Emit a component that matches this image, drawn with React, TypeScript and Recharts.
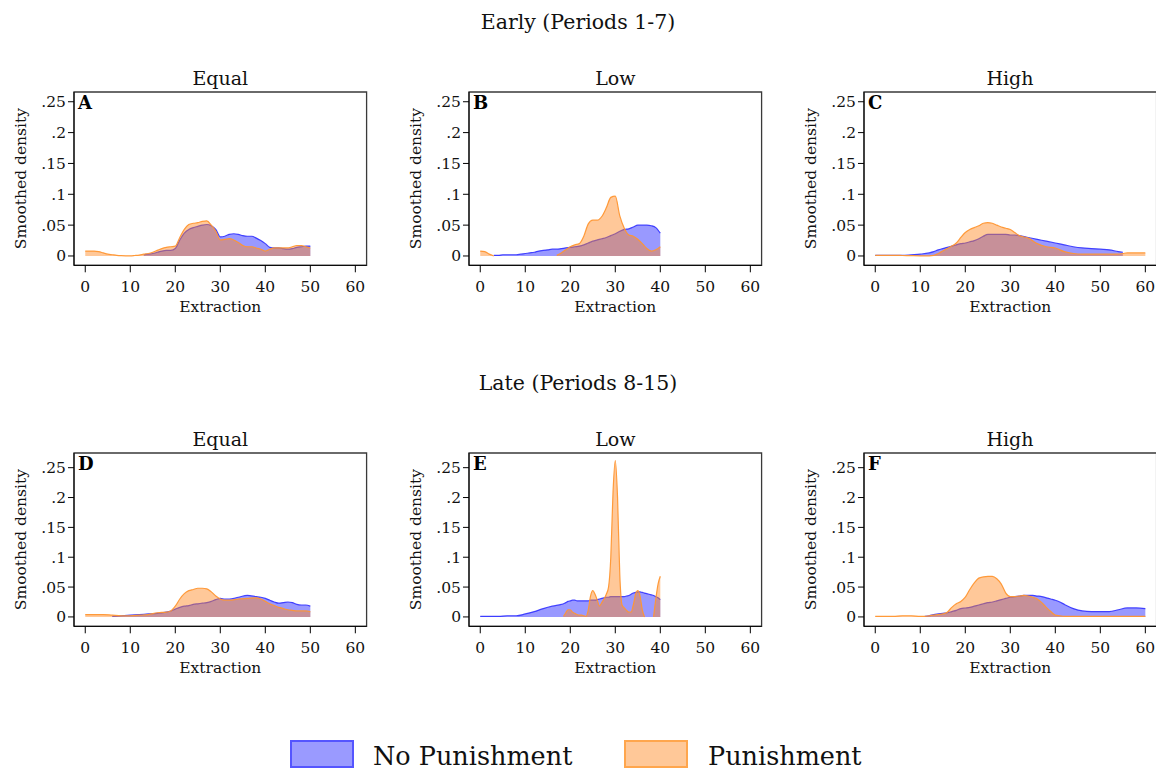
import React from "react";
import {
  AreaChart,
  Area,
  XAxis,
  YAxis,
  ReferenceArea,
} from "recharts";

// extraction grid and smoothed densities
// null = series not drawn at that extraction level

// A: Early, Equal
const xA = [0, 1, 2, 3, 4, 5, 6, 7, 8, 9, 10, 11, 12, 13, 14, 15, 16, 17, 18, 19, 20, 21, 22, 23, 24, 25, 26, 27, 28, 29, 30, 31, 32, 33, 34, 35, 36, 37, 38, 39, 40, 41, 42, 43, 44, 45, 46, 47, 48, 49, 50];
const npA = [null, null, null, null, null, null, null, null, null, null, null, null, null, 0.002, 0.003, 0.004, 0.006, 0.008, 0.009, 0.009, 0.012, 0.026, 0.037, 0.043, 0.046, 0.048, 0.05, 0.051, 0.049, 0.043, 0.031, 0.032, 0.035, 0.036, 0.035, 0.033, 0.032, 0.032, 0.029, 0.025, 0.02, 0.014, 0.013, 0.013, 0.012, 0.011, 0.012, 0.014, 0.015, 0.016, 0.016];
const pA = [0.008, 0.008, 0.008, 0.007, 0.005, 0.003, 0.002, 0.001, 0.0005, 0.0003, 0.0003, 0.0008, 0.0015, 0.003, 0.004, 0.006, 0.009, 0.012, 0.014, 0.015, 0.016, 0.03, 0.043, 0.051, 0.053, 0.054, 0.056, 0.057, 0.05, 0.04, 0.026, 0.027, 0.028, 0.026, 0.022, 0.017, 0.015, 0.015, 0.013, 0.011, 0.008, 0.011, 0.013, 0.013, 0.013, 0.013, 0.015, 0.017, 0.017, 0.015, 0.013];

// B: Early, Low
const xB = [0, 1, 2, 3, 4, 5, 6, 7, 8, 9, 10, 11, 12, 13, 14, 15, 16, 17, 18, 19, 20, 21, 22, 23, 24, 25, 26, 27, 28, 29, 30, 31, 32, 33, 34, 35, 36, 37, 38, 39, 40];
const npB = [null, null, null, 0.001, 0.001, 0.002, 0.002, 0.002, 0.002, 0.003, 0.004, 0.005, 0.006, 0.008, 0.009, 0.01, 0.011, 0.011, 0.012, 0.013, 0.014, 0.015, 0.016, 0.018, 0.021, 0.024, 0.026, 0.028, 0.03, 0.033, 0.036, 0.04, 0.043, 0.044, 0.047, 0.05, 0.05, 0.05, 0.049, 0.046, 0.037];
const pB = [0.008, 0.007, 0.003, 0, null, null, null, null, null, null, null, null, null, null, null, null, null, 0.001, 0.005, 0.01, 0.015, 0.018, 0.02, 0.032, 0.052, 0.058, 0.058, 0.064, 0.078, 0.095, 0.097, 0.065, 0.045, 0.034, 0.032, 0.027, 0.02, 0.012, 0.008, 0.01, 0.015];

// C: Early, High
const xC = [0, 2, 4, 6, 8, 10, 12, 13, 14, 15, 16, 17, 18, 19, 20, 21, 22, 23, 24, 25, 26, 27, 28, 29, 30, 31, 32, 34, 36, 38, 40, 42, 44, 46, 48, 50, 52, 54, 55, 56, 58, 60];
const npC = [0.001, 0.001, 0.001, 0.001, 0.002, 0.003, 0.005, 0.007, 0.01, 0.012, 0.014, 0.016, 0.018, 0.02, 0.021, 0.023, 0.025, 0.028, 0.032, 0.035, 0.035, 0.035, 0.035, 0.035, 0.034, 0.034, 0.033, 0.03, 0.027, 0.024, 0.021, 0.018, 0.015, 0.013, 0.012, 0.011, 0.01, 0.007, 0.006, null, null, null];
const pC = [0.001, 0.001, 0.001, 0.0008, 0.0005, 0.0003, 0.0003, 0.001, 0.004, 0.008, 0.012, 0.016, 0.021, 0.03, 0.038, 0.043, 0.046, 0.049, 0.053, 0.054, 0.053, 0.05, 0.047, 0.045, 0.043, 0.038, 0.033, 0.029, 0.02, 0.015, 0.013, 0.007, 0.004, 0.003, 0.003, 0.003, 0.003, 0.003, 0.004, 0.005, 0.005, 0.005];

// D: Late, Equal
const xD = [0, 2, 4, 6, 8, 10, 12, 14, 16, 18, 19, 20, 21, 22, 23, 24, 25, 26, 27, 28, 29, 30, 31, 32, 34, 36, 38, 39, 40, 41, 42, 43, 44, 45, 46, 47, 48, 49, 50];
const npD = [null, null, null, 0.001, 0.002, 0.003, 0.004, 0.005, 0.006, 0.008, 0.01, 0.013, 0.016, 0.018, 0.019, 0.021, 0.022, 0.023, 0.024, 0.026, 0.029, 0.031, 0.03, 0.03, 0.033, 0.036, 0.034, 0.033, 0.031, 0.028, 0.025, 0.023, 0.024, 0.025, 0.024, 0.021, 0.02, 0.02, 0.018];
const pD = [0.004, 0.004, 0.004, 0.003, 0.002, 0.002, 0.003, 0.004, 0.007, 0.008, 0.01, 0.018, 0.03, 0.039, 0.044, 0.046, 0.048, 0.048, 0.047, 0.042, 0.035, 0.03, 0.028, 0.028, 0.03, 0.031, 0.032, 0.03, 0.026, 0.022, 0.019, 0.016, 0.014, 0.012, 0.011, 0.01, 0.01, 0.01, 0.009];

// E: Late, Low
const xE = [0, 2, 4, 6, 8, 10, 12, 14, 16, 18, 18.5, 19, 19.5, 20, 20.5, 21, 21.5, 22, 22.5, 23, 23.5, 24, 24.5, 25, 25.5, 26, 26.5, 27, 27.5, 28, 28.5, 29, 29.5, 30, 30.5, 31, 31.5, 32, 32.5, 33, 33.5, 34, 34.5, 35, 35.5, 36, 36.5, 37, 37.5, 38, 38.5, 39, 39.5, 40];
const npE = [0.001, 0.001, 0.001, 0.002, 0.002, 0.005, 0.009, 0.014, 0.018, 0.021, 0.022, 0.024, 0.026, 0.027, 0.028, 0.028, 0.027, 0.027, 0.027, 0.027, 0.027, 0.027, 0.028, 0.028, 0.028, 0.029, 0.03, 0.031, 0.032, 0.033, 0.033, 0.034, 0.034, 0.034, 0.034, 0.034, 0.034, 0.034, 0.035, 0.036, 0.038, 0.04, 0.041, 0.042, 0.042, 0.041, 0.04, 0.039, 0.038, 0.037, 0.036, 0.034, 0.032, 0.029];
const pE = [null, null, null, null, null, null, null, null, null, null, 0.001, 0.007, 0.012, 0.012, 0.008, 0.006, 0.004, 0.003, 0.003, 0.002, 0.001, 0.012, 0.035, 0.044, 0.038, 0.028, 0.018, 0.024, 0.03, 0.038, 0.05, 0.1, 0.21, 0.262, 0.2, 0.07, 0.02, 0.015, 0.011, 0.008, 0.008, 0.02, 0.038, 0.044, 0.035, 0.012, 0, null, null, null, 0, 0.03, 0.055, 0.068];

// F: Late, High
const xF = [0, 2, 4, 6, 8, 10, 11, 12, 13, 14, 15, 16, 17, 18, 19, 20, 21, 22, 23, 24, 25, 26, 27, 28, 29, 30, 31, 32, 33, 34, 35, 36, 37, 38, 39, 40, 41, 42, 44, 46, 48, 50, 52, 54, 56, 58, 60];
const npF = [null, null, null, null, null, null, 0.001, 0.002, 0.004, 0.005, 0.006, 0.007, 0.009, 0.011, 0.014, 0.015, 0.016, 0.018, 0.02, 0.022, 0.024, 0.025, 0.027, 0.029, 0.031, 0.033, 0.034, 0.035, 0.036, 0.036, 0.036, 0.035, 0.034, 0.032, 0.03, 0.028, 0.025, 0.021, 0.014, 0.01, 0.009, 0.009, 0.009, 0.012, 0.015, 0.015, 0.014];
const pF = [0.001, 0.0008, 0.0008, 0.002, 0.002, 0.001, 0.001, 0.002, 0.003, 0.004, 0.005, 0.008, 0.016, 0.022, 0.026, 0.033, 0.046, 0.057, 0.065, 0.067, 0.068, 0.068, 0.064, 0.055, 0.04, 0.034, 0.034, 0.035, 0.036, 0.035, 0.033, 0.03, 0.024, 0.016, 0.009, 0.003, 0.002, 0.001, 0.001, 0.001, 0.001, 0.001, 0.001, 0.001, 0.001, 0.001, 0.001];

const xTicks = [0, 10, 20, 30, 40, 50, 60];
const yTicks = [0, 0.05, 0.1, 0.15, 0.2, 0.25];
const colTitles = ["Equal", "Low", "High"];
const rowTitles = ["Early (Periods 1-7)", "Late (Periods 8-15)"];
const seriesNames = ["No Punishment", "Punishment"];

const FONT = "'DejaVu Serif', serif";
const BLUE_FILL = "rgba(0,0,255,0.4)";
const BLUE_LINE = "rgba(40,40,255,0.85)";
const ORANGE_FILL = "rgba(255,134,28,0.45)";
const ORANGE_LINE = "rgba(255,150,50,0.95)";

const toRows = (xs: number[], np: (number | null)[], p: (number | null)[]) =>
  xs.map((x, i) => ({ x, np: np[i], p: p[i] }));

const panels = [
  { letter: "A", data: toRows(xA, npA, pA) },
  { letter: "B", data: toRows(xB, npB, pB) },
  { letter: "C", data: toRows(xC, npC, pC) },
  { letter: "D", data: toRows(xD, npD, pD) },
  { letter: "E", data: toRows(xE, npE, pE) },
  { letter: "F", data: toRows(xF, npF, pF) },
];

const X_DOMAIN: [number, number] = [-2.5, 62.5];
const Y_DOMAINS: [number, number][] = [
  [-0.0151, 0.2658],
  [-0.0157, 0.2746],
];

const FRAME_W = 292.6;
const FRAME_H = 173.3;
const Y_AXIS_W = 74;
const X_AXIS_H = 52;
const M_TOP = 4;
const frameLefts = [74, 469, 863.7];
const frameTops = [91.7, 453.3];

const fmtY = (v: number) => (v === 0 ? "0" : String(v).replace(/^0/, ""));

function Panel({
  letter,
  data,
  yDomain,
}: {
  letter: string;
  data: { x: number; np: number | null; p: number | null }[];
  yDomain: [number, number];
}) {
  return (
    <AreaChart
      width={Y_AXIS_W + FRAME_W + 2}
      height={M_TOP + FRAME_H + X_AXIS_H}
      data={data}
      margin={{ top: M_TOP, right: 2, left: 0, bottom: 0 }}
    >
      <XAxis
        dataKey="x"
        type="number"
        domain={X_DOMAIN}
        ticks={xTicks}
        allowDataOverflow
        height={X_AXIS_H}
        stroke="#000"
        tickSize={7}
        tickMargin={9}
        tick={{ fill: "#111", fontSize: 15.5, fontFamily: FONT }}
        label={{
          value: "Extraction",
          position: "insideBottom",
          offset: 5,
          fill: "#111",
          fontSize: 15.5,
          fontFamily: FONT,
        }}
      />
      <YAxis
        type="number"
        domain={yDomain}
        ticks={yTicks}
        allowDataOverflow
        width={Y_AXIS_W}
        stroke="#000"
        tickSize={6}
        tickMargin={2}
        tickFormatter={fmtY}
        tick={{ fill: "#111", fontSize: 15.5, fontFamily: FONT }}
        label={{
          value: "Smoothed density",
          angle: -90,
          position: "insideLeft",
          offset: 21,
          fill: "#111",
          fontSize: 15.5,
          fontFamily: FONT,
          style: { textAnchor: "middle" },
        }}
      />
      <Area
        type="monotone"
        dataKey="np"
        fill={BLUE_FILL}
        fillOpacity={1}
        stroke={BLUE_LINE}
        strokeWidth={1.2}
        isAnimationActive={false}
        dot={false}
        activeDot={false}
      />
      <Area
        type="monotone"
        dataKey="p"
        fill={ORANGE_FILL}
        fillOpacity={1}
        stroke={ORANGE_LINE}
        strokeWidth={1.2}
        isAnimationActive={false}
        dot={false}
        activeDot={false}
      />
      <ReferenceArea
        x1={X_DOMAIN[0]}
        x2={X_DOMAIN[1]}
        y1={yDomain[0]}
        y2={yDomain[1]}
        fill="none"
        stroke="#3a3a3a"
        strokeWidth={1.3}
        ifOverflow="visible"
        label={{
          value: letter,
          position: "insideTopLeft",
          offset: 4,
          fill: "#000",
          fontSize: 18,
          fontWeight: 700,
          fontFamily: FONT,
        }}
      />
    </AreaChart>
  );
}

const textBase: React.CSSProperties = {
  position: "absolute",
  fontFamily: FONT,
  color: "#111",
  whiteSpace: "nowrap",
  textAlign: "center",
};

export default function App() {
  return (
    <div
      style={{
        position: "absolute",
        left: 0,
        top: 0,
        width: 1156,
        height: 771,
        background: "#fff",
        overflow: "hidden",
      }}
    >
      {rowTitles.map((t, r) => (
        <div
          key={t}
          style={{ ...textBase, left: 0, width: 1156, top: [10, 371][r], fontSize: 20.5, lineHeight: "24px" }}
        >
          {t}
        </div>
      ))}
      {panels.map((pn, i) => {
        const r = Math.floor(i / 3);
        const c = i % 3;
        const fl = frameLefts[c];
        const ft = frameTops[r];
        return (
          <React.Fragment key={pn.letter}>
            <div
              style={{
                ...textBase,
                left: fl,
                width: FRAME_W,
                top: ft - 26,
                fontSize: 19,
                lineHeight: "24px",
              }}
            >
              {colTitles[c]}
            </div>
            <div style={{ position: "absolute", left: fl - Y_AXIS_W, top: ft - M_TOP }}>
              <Panel letter={pn.letter} data={pn.data} yDomain={Y_DOMAINS[r]} />
            </div>
          </React.Fragment>
        );
      })}
      {/* legend */}
      {seriesNames.map((name, i) => (
        <React.Fragment key={name}>
          <div
            style={{
              position: "absolute",
              left: [290, 624][i],
              top: 740,
              width: 60,
              height: 24,
              background: i === 0 ? "#9a9aff" : "#ffc898",
              border: `2px solid ${i === 0 ? "#5555ff" : "#ffa64d"}`,
            }}
          />
          <div
            style={{
              ...textBase,
              textAlign: "left",
              left: [373, 708][i],
              top: 740,
              fontSize: 25.5,
              lineHeight: "32px",
            }}
          >
            {name}
          </div>
        </React.Fragment>
      ))}
    </div>
  );
}
